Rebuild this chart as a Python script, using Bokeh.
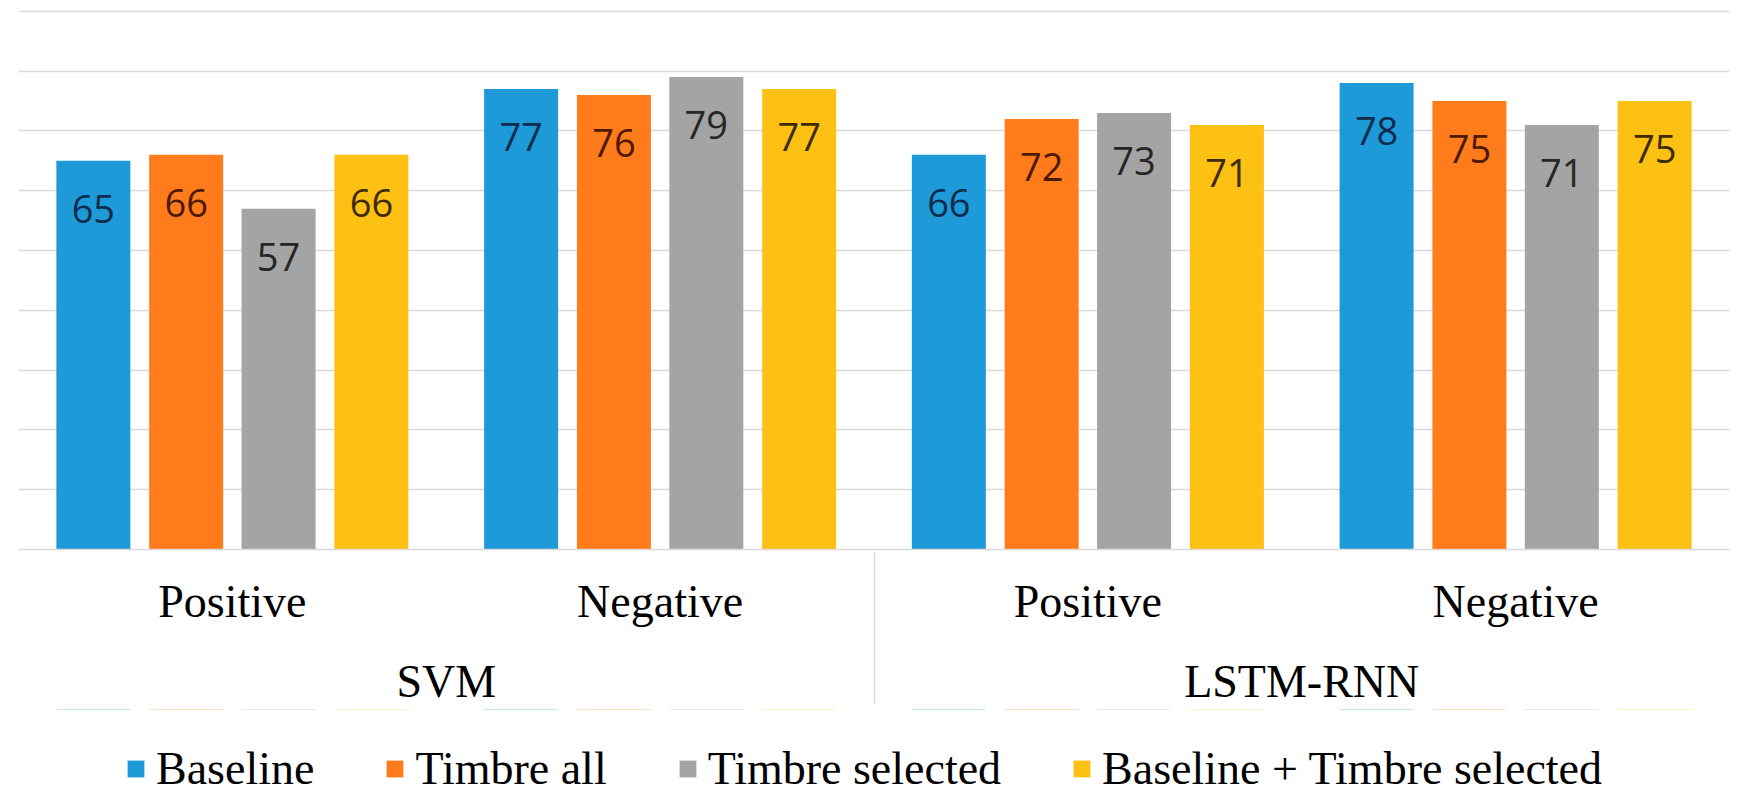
from bokeh.plotting import figure
from bokeh.models import ColumnDataSource, FactorRange, Range1d, Legend, LegendItem, FixedTicker
from bokeh.layouts import column
from bokeh.transform import dodge
from bokeh.core.properties import value
from bokeh.embed import file_html
from bokeh.resources import INLINE

# data
models = ["SVM", "LSTM-RNN"]
emotions = ["Positive", "Negative"]
series = ["Baseline", "Timbre all", "Timbre selected", "Baseline + Timbre selected"]

baseline = [65, 77, 66, 78]
timbre_all = [66, 76, 72, 75]
timbre_selected = [57, 79, 73, 71]
baseline_timbre = [66, 77, 71, 75]

grid_ticks = [10, 20, 30, 40, 50, 60, 70, 80, 90]

bar_colors = ["#1f9ad9", "#ff7b1c", "#a4a4a4", "#fdc113"]
label_colors = ["#0c2d4e", "#4d1a00", "#262626", "#3f2b00"]
offsets = [-0.325, -0.108, 0.108, 0.325]

factors = [(m, e) for m in models for e in emotions]
cols = ["b", "ta", "ts", "bt"]
vals = [baseline, timbre_all, timbre_selected, baseline_timbre]

data = dict(x=factors)
for c, v in zip(cols, vals):
    data[c] = v
    data[c + "_lbl"] = [str(n) for n in v]
source = ColumnDataSource(data=data)

serif = "Liberation Serif"

p = figure(x_range=FactorRange(*factors, factor_padding=0, group_padding=0, range_padding=0),
           y_range=Range1d(0, 90.3), frame_width=1711, frame_height=540,
           output_backend="svg", toolbar_location=None,
           min_border_left=18, min_border_right=14, min_border_top=9, min_border_bottom=0)

for i, c in enumerate(cols):
    xs = dodge("x", offsets[i], range=p.x_range)
    p.vbar(x=xs, top=c, width=0.173, source=source,
           fill_color=bar_colors[i], line_color=None)
    p.text(x=xs, y=c, text=c + "_lbl", source=source,
           text_align="center", text_baseline="middle", y_offset=48,
           text_font=value("Open Sans"), text_font_size="38px",
           text_color=label_colors[i])

p.xgrid.visible = False
p.ygrid.ticker = FixedTicker(ticks=grid_ticks)
p.ygrid.grid_line_color = "#d9d9d9"
p.ygrid.grid_line_width = 1.5
p.yaxis.visible = False
p.outline_line_color = None

ax = p.xaxis[0]
ax.axis_line_color = "#d9d9d9"
ax.axis_line_width = 1.5
ax.major_tick_line_color = None
ax.major_tick_out = 0
ax.major_tick_in = 0
ax.major_label_standoff = 26
ax.major_label_text_font = serif
ax.major_label_text_font_size = "46px"
ax.major_label_text_color = "black"
ax.group_text_font = serif
ax.group_text_font_size = "46px"
ax.group_text_color = "black"
ax.group_text_font_style = "normal"
ax.separator_line_color = "#d9d9d9"
ax.separator_line_width = 1.5

# legend strip: its own small plot, the bars sit outside its y range so only the key shows
p2 = figure(x_range=p.x_range, y_range=Range1d(-20, -10), frame_width=1711, frame_height=86,
            output_backend="svg", toolbar_location=None,
            x_axis_location=None, y_axis_location=None,
            min_border_left=18, min_border_right=14, min_border_top=0, min_border_bottom=0)
p2.grid.visible = False
p2.outline_line_color = None

keys = []
for i, c in enumerate(cols):
    xs = dodge("x", offsets[i], range=p2.x_range)
    keys.append(p2.vbar(x=xs, top=c, width=0.173, source=source,
                        fill_color=bar_colors[i], line_color=None))

legend = Legend(items=[LegendItem(label=s, renderers=[r]) for s, r in zip(series, keys)],
                orientation="horizontal", location=(107, 0),
                glyph_width=21, glyph_height=21, label_standoff=10, spacing=70,
                padding=0, margin=0, border_line_color=None, background_fill_alpha=0,
                label_text_font=serif, label_text_font_size="46px", label_text_color="black")
p2.add_layout(legend)

open("out.html", "w").write(file_html(column(p, p2, spacing=0), INLINE))
